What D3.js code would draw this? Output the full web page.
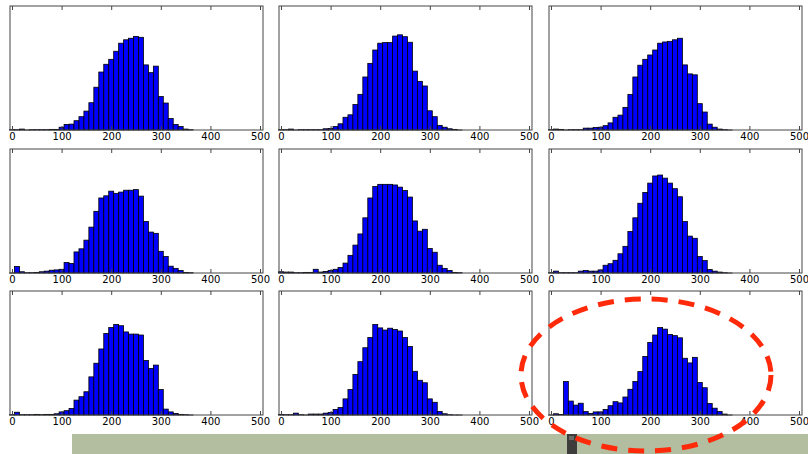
<!DOCTYPE html>
<html>
<head>
<meta charset="utf-8">
<script src="https://cdn.jsdelivr.net/npm/d3@7"></script>
<style>
  body { margin: 0; background: #fff; }
  svg { display: block; }
  .tick text { font-family: "DejaVu Sans", sans-serif; font-size: 10px; fill: #000; }
</style>
</head>
<body>
<svg id="chart" width="808" height="454"></svg>
<script>
// bin centres (width 10) shared by every panel
var binCenters = d3.range(0, 370, 10);
var xTicks = [0, 100, 200, 300, 400, 500];

// counts per panel, row by row
var p1 = [1,1,3,0,1,1,1,1,2,2,9,18,19,30,43,61,88,138,187,212,228,254,280,291,296,302,299,210,185,206,108,87,37,18,11,3,1];
var p2 = [1,1,3,0,1,1,1,1,1,4,5,11,20,41,49,82,115,171,215,258,280,282,282,303,307,301,283,190,157,142,62,43,15,9,4,2,0];
var p3 = [1,3,2,0,1,1,1,6,6,8,9,14,23,41,48,73,115,171,209,228,242,258,280,284,286,291,296,210,181,178,85,58,19,9,3,1,0];
var p4 = [0,21,4,1,1,2,4,6,9,10,12,34,31,68,78,106,148,199,242,249,264,257,261,267,267,269,248,166,132,128,70,53,22,15,8,2,1];
var p5 = [4,3,3,1,1,2,2,12,3,5,8,12,18,32,57,90,126,178,242,279,286,286,286,284,277,266,245,168,135,141,79,67,25,15,8,2,1];
var p6 = [1,6,1,1,1,1,6,8,6,6,10,25,30,41,62,86,134,178,225,260,290,313,316,306,290,272,246,166,119,112,53,40,11,6,3,1,0];
var p7 = [1,9,1,1,1,2,1,2,2,4,10,14,21,48,59,75,123,167,213,263,282,292,288,268,261,261,258,176,150,161,82,19,10,5,2,1,0];
var p8 = [2,1,1,6,1,0,3,3,3,6,8,18,24,52,82,131,172,217,250,292,281,274,280,276,271,250,221,141,112,104,52,41,11,4,1,0,0];
var p9 = [0,4,2,108,45,32,38,11,5,10,10,18,30,43,39,58,83,108,140,189,234,258,282,277,260,256,249,183,168,186,105,88,37,22,11,3,0];

var panels = [p1, p2, p3, p4, p5, p6, p7, p8, p9];

var svg = d3.select("#chart");
var colX = [10, 279, 549], rowY = [6, 149, 291];
var w = 253, h = 124;

panels.forEach(function(counts, i) {
  var left = colX[i % 3], top = rowY[Math.floor(i / 3)];
  var g = svg.append("g").attr("transform", "translate(" + left + "," + top + ")");
  var x = d3.scaleLinear().domain([-4, 506]).range([0, w]);
  var y = d3.scaleLinear().domain([0, 400]).range([h, 0]);

  g.selectAll("rect.bar")
    .data(counts)
    .enter().append("rect")
    .attr("class", "bar")
    .attr("x", function(d, j) { return x(binCenters[j] - 5); })
    .attr("width", function(d, j) { return x(binCenters[j] + 5) - x(binCenters[j] - 5); })
    .attr("y", function(d) { return y(d); })
    .attr("height", function(d) { return Math.max(h - y(d), 0.01); })
    .style("fill", "#0000ff")
    .style("stroke", "#000")
    .style("stroke-width", 0.8);

  // frame
  g.append("rect").attr("width", w).attr("height", h)
    .style("fill", "none").style("stroke", "#444").style("stroke-width", 1);

  var bottom = g.append("g").attr("transform", "translate(0," + h + ")")
    .call(d3.axisBottom(x).tickValues(xTicks).tickSize(-4).tickPadding(3).tickFormat(d3.format("d")));
  bottom.select(".domain").remove();
  bottom.selectAll(".tick line").style("stroke", "#444");

  var topAx = g.append("g")
    .call(d3.axisTop(x).tickValues(xTicks).tickSize(-4).tickFormat(""));
  topAx.select(".domain").remove();
  topAx.selectAll(".tick line").style("stroke", "#444");
});

// photo strip and overlay annotation
svg.append("rect").attr("x", 72).attr("y", 434).attr("width", 736).attr("height", 20).style("fill", "#b3bd9f");
svg.append("rect").attr("x", 567).attr("y", 434).attr("width", 10).attr("height", 20).style("fill", "#3d3d3b");
svg.append("rect").attr("x", 569).attr("y", 436).attr("width", 5).attr("height", 4).style("fill", "#6a6a66");

svg.append("ellipse")
  .attr("cx", 646).attr("cy", 375).attr("rx", 125).attr("ry", 76)
  .style("fill", "none").style("stroke", "#ff2a0a").style("stroke-width", 5)
  .style("stroke-dasharray", "16,11");
</script>
</body>
</html>
